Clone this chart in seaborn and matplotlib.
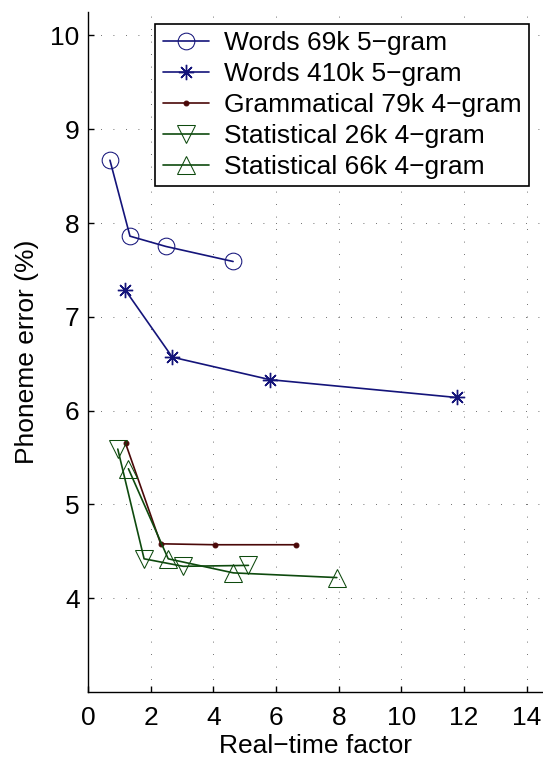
import matplotlib
matplotlib.use("Agg")
import matplotlib.pyplot as plt
import pandas as pd
import seaborn as sns


# values
words69_rtf = [0.70, 1.34, 2.49, 4.63]
words69_err = [8.67, 7.86, 7.75, 7.59]

words410_rtf = [1.18, 2.69, 5.81, 11.76]
words410_err = [7.29, 6.57, 6.33, 6.14]

gram79_rtf = [1.20, 2.32, 4.05, 6.64]
gram79_err = [5.65, 4.58, 4.57, 4.57]

stat26_rtf = [0.95, 1.79, 3.04, 5.12]
stat26_err = [5.59, 4.42, 4.34, 4.35]

stat66_rtf = [1.29, 2.56, 4.64, 7.94]
stat66_err = [5.38, 4.42, 4.27, 4.22]

series_names = [
    "Words 69k 5\u2212gram",
    "Words 410k 5\u2212gram",
    "Grammatical 79k 4\u2212gram",
    "Statistical 26k 4\u2212gram",
    "Statistical 66k 4\u2212gram",
]

x_ticks = [0, 2, 4, 6, 8, 10, 12, 14]
y_ticks = [4, 5, 6, 7, 8, 9, 10]

BLUE = "#14147a"
BROWN = "#4a0808"
GREEN = "#0e4a0e"

sns.set_style("ticks")
plt.rcParams.update({
    "font.family": ["Liberation Sans", "DejaVu Sans"],
    "font.size": 19,
    "text.color": "black",
    "axes.labelcolor": "black",
    "axes.edgecolor": "black",
    "xtick.color": "black",
    "ytick.color": "black",
    "axes.linewidth": 1.0,
    "xtick.direction": "in",
    "ytick.direction": "in",
    "xtick.major.size": 4.5,
    "ytick.major.size": 4.5,
    "xtick.major.width": 1.0,
    "ytick.major.width": 1.0,
    "xtick.major.pad": 10,
    "ytick.major.pad": 6,
})

frames = []
for name, xs, ys in zip(series_names,
                        [words69_rtf, words410_rtf, gram79_rtf, stat26_rtf, stat66_rtf],
                        [words69_err, words410_err, gram79_err, stat26_err, stat66_err]):
    frames.append(pd.DataFrame({"series": name, "rtf": xs, "err": ys}))
df = pd.concat(frames, ignore_index=True)

styles = {
    series_names[0]: dict(color=BLUE, marker="o", markersize=12, markerfacecolor="none",
                          markeredgecolor=BLUE),
    series_names[1]: dict(color=BLUE, marker=(8, 2, 0), markersize=11, markeredgewidth=1.0,
                          markeredgecolor=BLUE),
    series_names[2]: dict(color=BROWN, marker="o", markersize=3.5, markerfacecolor=BROWN,
                          markeredgecolor=BROWN),
    series_names[3]: dict(color=GREEN, marker="v", markersize=13.5, markerfacecolor="none",
                          markeredgecolor=GREEN),
    series_names[4]: dict(color=GREEN, marker="^", markersize=13.5, markerfacecolor="none",
                          markeredgecolor=GREEN),
}

fig = plt.figure(figsize=(5.43, 7.59), dpi=100)
ax = fig.add_axes([88 / 543, 67 / 759, 1 - 88 / 543, (692 - 12) / 759])

for name in series_names:
    sub = df[df["series"] == name]
    sns.lineplot(data=sub, x="rtf", y="err", ax=ax, sort=False, estimator=None,
                 linewidth=1.2, label=name, **styles[name])

ax.set_xlim(0, 14.52)
ax.set_ylim(3, 10.25)
ax.set_xticks(x_ticks)
ax.set_yticks(y_ticks)
ax.grid(True, linestyle=(0, (1, 14)), linewidth=0.6, color="0.25")
ax.set_axisbelow(True)
sns.despine(ax=ax, top=True, right=True)

ax.set_xlabel("Real\u2212time factor", labelpad=3)
ax.set_ylabel("Phoneme error (%)", labelpad=8)

handles, labels = ax.get_legend_handles_labels()
leg = ax.legend(handles, labels, loc="upper right",
                bbox_to_anchor=(529 / 543, 1 - 24 / 759), bbox_transform=fig.transFigure,
                fancybox=False, framealpha=1, edgecolor="black",
                handlelength=1.75, handletextpad=0.57, labelspacing=0.26,
                borderpad=0.28, borderaxespad=0)
leg.get_frame().set_linewidth(1.2)

fig.savefig("out.png", dpi=100)
